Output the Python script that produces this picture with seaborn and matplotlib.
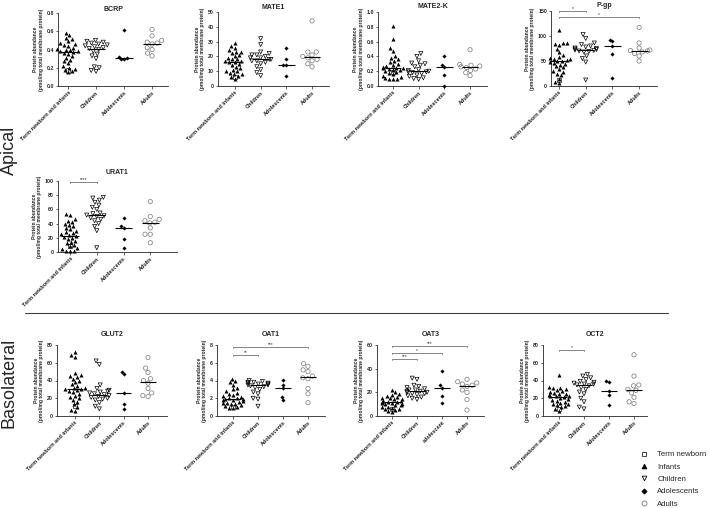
import numpy as np
import pandas as pd
import seaborn as sns
import matplotlib
matplotlib.use("Agg")
import matplotlib.pyplot as plt
from matplotlib.lines import Line2D

# ---- categories ----
GROUPS = ["Term newborn and infants", "Children", "Adolescents", "Adults"]
GROUPS_OAT3 = ["Term newborn and infants", "Children", "adolescent", "Adults"]
SUBGROUPS = ["Term newborn", "Infants", "Children", "Adolescents", "Adults"]
SUB_TO_GROUP = [0, 0, 1, 2, 3]
YLABEL = "Protein abundance\n(pmol/mg total membrane protein)"

# ---- BCRP ----
bcrp_newborn = [0.17]
bcrp_infants = [0.58, 0.56, 0.53, 0.51, 0.49, 0.47, 0.46, 0.45, 0.44, 0.42, 0.41, 0.40, 0.39, 0.38, 0.38,
                0.37, 0.36, 0.35, 0.33, 0.31, 0.29, 0.27, 0.25, 0.22, 0.20, 0.19, 0.18, 0.16, 0.15]
bcrp_children = [0.50, 0.49, 0.48, 0.47, 0.46, 0.45, 0.44, 0.43, 0.42, 0.41, 0.40, 0.38, 0.35, 0.33, 0.30,
                 0.21, 0.20, 0.17, 0.16]
bcrp_adolescents = [0.61, 0.32, 0.31, 0.30, 0.30]
bcrp_adults = [0.62, 0.55, 0.50, 0.48, 0.47, 0.46, 0.42, 0.40, 0.36, 0.33]

# ---- MATE1 ----
mate1_newborn = [6]
mate1_infants = [29, 27, 26, 24, 23, 23, 22, 21, 20, 19, 18, 18, 17, 17, 16, 16, 15, 14, 13, 12, 11, 10,
                 10, 9, 8, 8, 7, 6, 5]
mate1_children = [32, 28, 23, 22, 21, 21, 20, 19, 19, 18, 18, 17, 17, 16, 15, 13, 11, 9, 7]
mate1_adolescents = [26, 18, 14, 14, 6.5]
mate1_adults = [44, 23, 23, 21, 20, 19, 18, 17, 15, 13]

# ---- MATE2-K ----
mate2k_newborn = [0.19]
mate2k_infants = [0.81, 0.63, 0.51, 0.47, 0.40, 0.38, 0.36, 0.34, 0.32, 0.30, 0.28, 0.27, 0.26, 0.25, 0.24,
                  0.24, 0.23, 0.22, 0.21, 0.20, 0.19, 0.17, 0.16, 0.14, 0.12, 0.11, 0.10, 0.10, 0.09]
mate2k_children = [0.44, 0.40, 0.34, 0.31, 0.30, 0.28, 0.26, 0.22, 0.21, 0.20, 0.19, 0.19, 0.18, 0.17, 0.15,
                   0.13, 0.11, 0.10, 0.09]
mate2k_adolescents = [0.41, 0.28, 0.26, 0.15, 0.0]
mate2k_adults = [0.49, 0.29, 0.28, 0.27, 0.26, 0.25, 0.23, 0.21, 0.18, 0.14]

# ---- P-gp ----
pgp_newborn = [12]
pgp_infants = [112, 87, 86, 84, 82, 75, 68, 62, 58, 57, 55, 54, 52, 51, 50, 49, 47, 45, 43, 40, 38, 35,
               30, 28, 25, 22, 15, 8, 7]
pgp_children = [103, 95, 86, 83, 80, 78, 76, 75, 74, 73, 72, 71, 70, 69, 68, 60, 55, 48, 12]
pgp_adolescents = [92, 90, 80, 64, 17]
pgp_adults = [117, 86, 76, 72, 71, 70, 68, 65, 60, 50]

# ---- URAT1 ----
urat1_newborn = [8]
urat1_infants = [53, 52, 46, 44, 42, 40, 38, 36, 34, 32, 30, 28, 27, 25, 24, 22, 21, 20, 18, 16, 14, 12,
                 10, 8, 6, 4, 2, 1.5, 1]
urat1_children = [77, 76, 73, 70, 66, 63, 60, 55, 54, 52, 51, 50, 48, 46, 44, 40, 36, 30, 6]
urat1_adolescents = [48, 37, 34, 18, 5]
urat1_adults = [71, 50, 46, 44, 42, 41, 34, 25, 25, 13]

# ---- GLUT2 ----
glut2_newborn = [11]
glut2_infants = [72, 69, 67, 48, 46, 45, 44, 42, 40, 38, 36, 34, 32, 31, 30, 30, 29, 28, 27, 25, 23, 21,
                 20, 18, 16, 13, 10, 7, 6]
glut2_children = [62, 58, 35, 31, 29, 28, 27, 26, 25, 24, 23, 22, 21, 20, 19, 18, 15, 11, 8]
glut2_adolescents = [50, 47, 26, 14, 8]
glut2_adults = [66, 54, 49, 42, 40, 37, 31, 26, 23, 22]

# ---- OAT1 ----
oat1_newborn = [1.0]
oat1_infants = [4.2, 3.9, 3.8, 3.5, 3.2, 3.0, 2.8, 2.6, 2.5, 2.4, 2.2, 2.1, 2.0, 2.0, 1.9, 1.9, 1.8, 1.8,
                1.7, 1.6, 1.5, 1.5, 1.4, 1.3, 1.2, 1.1, 1.0, 0.9, 0.9]
oat1_children = [4.0, 3.9, 3.8, 3.8, 3.7, 3.7, 3.6, 3.6, 3.5, 3.5, 3.4, 3.3, 3.2, 3.0, 2.7, 2.5, 2.0, 1.9, 1.1]
oat1_adolescents = [4.1, 3.5, 3.1, 2.1, 1.8]
oat1_adults = [5.9, 5.6, 5.2, 5.0, 4.5, 4.3, 4.2, 3.1, 2.5, 1.5]

# ---- OAT3 ----
oat3_newborn = [6]
oat3_infants = [22, 20, 19, 18, 17, 16, 15, 15, 14, 14, 13, 13, 12, 12, 12, 11, 11, 10, 10, 9, 9, 8, 8, 7,
                6, 6, 5, 4, 3]
oat3_children = [32, 31, 26, 25, 24, 23, 22, 22, 21, 21, 20, 20, 19, 19, 18, 17, 16, 15, 14]
oat3_adolescents = [38, 26, 24, 17, 11]
oat3_adults = [31, 29, 28, 27, 26, 25, 22, 20, 14, 5]

# ---- OCT2 ----
oct2_newborn = [8]
oct2_infants = [46, 33, 32, 31, 30, 29, 28, 27, 26, 25, 25, 24, 23, 22, 22, 21, 20, 19, 18, 17, 16, 15,
                14, 13, 12, 11, 10, 8, 6]
oct2_children = [47, 45, 43, 41, 39, 38, 37, 36, 36, 35, 34, 32, 30, 27, 25, 20, 16, 10, 8]
oct2_adolescents = [39, 38, 28, 24, 12]
oct2_adults = [69, 45, 35, 34, 30, 29, 26, 21, 16, 14]

# significance brackets: (group a, group b, height, label)
pgp_sig = [(0, 1, 150, "*"), (0, 3, 138, "*")]
urat1_sig = [(0, 1, 99, "****")]
oat1_sig = [(0, 3, 7.8, "***"), (0, 1, 6.9, "**")]
oat3_sig = [(0, 3, 59, "***"), (0, 2, 53, "*"), (0, 1, 48, "***")]
oct2_sig = [(0, 1, 74, "*")]

# ---- styles ----
MARKERS = {"Term newborn": "s", "Infants": "^", "Children": "v", "Adolescents": "D", "Adults": "o"}
SIZES = {"Term newborn": 3.0, "Infants": 2.9, "Children": 2.9, "Adolescents": 2.1, "Adults": 3.1}
COLORS = {"Term newborn": "#222222", "Infants": "black", "Children": "black",
          "Adolescents": "black", "Adults": "#777777"}
OPEN = {"Term newborn", "Children", "Adults"}

W, H = 709, 508


def rect(left, top, right, bottom):
    return [left / W, 1 - bottom / H, (right - left) / W, (bottom - top) / H]


def draw_panel(fig, box, xlim, title, pad, sets, ymax, ystep, fmt, xlabels, sig):
    ax = fig.add_axes(rect(*box))

    rows = []
    for sub, gi, vals in zip(SUBGROUPS, SUB_TO_GROUP, sets):
        for v in vals:
            rows.append({"group": xlabels[gi], "sub": sub, "value": v})
    df = pd.DataFrame(rows)

    for sub in SUBGROUPS:
        part = df[df["sub"] == sub]
        n_before = len(ax.collections)
        sns.swarmplot(data=part, x="group", y="value", order=xlabels, ax=ax,
                      marker=MARKERS[sub], color=COLORS[sub], size=SIZES[sub],
                      linewidth=0, clip_on=False, warn_thresh=1)
        # drop empty point collections (categories without this subgroup)
        for coll in list(ax.collections[n_before:]):
            if len(coll.get_offsets()) == 0:
                coll.remove()
            elif sub in OPEN:
                coll.set_facecolor("none")
                coll.set_edgecolor(COLORS[sub])
                coll.set_linewidth(0.5)

    # median lines
    med = df.groupby("group")["value"].median()
    for i, g in enumerate(xlabels):
        ax.hlines(med[g], i - 0.32, i + 0.32, color="black", lw=0.8, zorder=5)

    # significance brackets
    d = ymax * 0.015
    for a, b, y, lab in sig:
        ax.plot([a, a, b, b], [y - d, y, y, y - d], color="#555555", lw=0.5, clip_on=False)
        ax.text((a + b) / 2, y, lab, ha="center", va="bottom", fontsize=3.5, color="#333333")

    ax.set_xlim(*xlim)
    ax.set_ylim(0, ymax)
    ticks = np.arange(0, ymax + ystep / 2, ystep)
    ax.set_yticks(ticks)
    ax.set_yticklabels([fmt.format(t) for t in ticks], fontsize=3.8, fontweight="bold")
    ax.set_xticks(range(4))
    ax.set_xticklabels(xlabels, rotation=45, ha="right", rotation_mode="anchor",
                       fontsize=4.0, fontweight="bold")
    ax.set_xlabel("")
    ax.set_ylabel(YLABEL, fontsize=3.6, fontweight="bold", labelpad=2)
    ax.set_title(title, fontsize=5, fontweight="bold", pad=pad)
    ax.tick_params(length=1.8, width=0.5, pad=1)
    sns.despine(ax=ax)
    for s in ["left", "bottom"]:
        ax.spines[s].set_linewidth(0.6)
    return ax


sns.set_style("ticks")
plt.rcParams["font.family"] = ["Liberation Sans", "DejaVu Sans"]

fig = plt.figure(figsize=(7.09, 5.08), dpi=100)

draw_panel(fig, (58, 13, 168, 86), (-0.36, 3.57), "BCRP", 0.8,
           [bcrp_newborn, bcrp_infants, bcrp_children, bcrp_adolescents, bcrp_adults],
           0.8, 0.2, "{:.1f}", GROUPS, [])
draw_panel(fig, (218, 12, 329, 86), (-0.66, 3.66), "MATE1", 2,
           [mate1_newborn, mate1_infants, mate1_children, mate1_adolescents, mate1_adults],
           50, 10, "{:.0f}", GROUPS, [])
draw_panel(fig, (378, 12, 487, 86), (-0.58, 3.66), "MATE2-K", 3,
           [mate2k_newborn, mate2k_infants, mate2k_children, mate2k_adolescents, mate2k_adults],
           1.0, 0.2, "{:.1f}", GROUPS, [])
draw_panel(fig, (551, 11, 657, 86), (-0.3, 3.67), "P-gp", 3,
           [pgp_newborn, pgp_infants, pgp_children, pgp_adolescents, pgp_adults],
           150, 50, "{:.0f}", GROUPS, pgp_sig)
draw_panel(fig, (58, 181, 177, 252), (-0.45, 4.0), "URAT1", 5,
           [urat1_newborn, urat1_infants, urat1_children, urat1_adolescents, urat1_adults],
           100, 20, "{:.0f}", GROUPS, urat1_sig)
draw_panel(fig, (57, 345, 167, 416), (-0.74, 3.78), "GLUT2", 6.5,
           [glut2_newborn, glut2_infants, glut2_children, glut2_adolescents, glut2_adults],
           80, 20, "{:.0f}", GROUPS, [])
draw_panel(fig, (217, 345, 325, 416), (-0.64, 3.68), "OAT1", 6.5,
           [oat1_newborn, oat1_infants, oat1_children, oat1_adolescents, oat1_adults],
           8, 2, "{:.0f}", GROUPS, oat1_sig)
draw_panel(fig, (377, 345, 484, 416), (-0.6, 3.68), "OAT3", 6.5,
           [oat3_newborn, oat3_infants, oat3_children, oat3_adolescents, oat3_adults],
           60, 20, "{:.0f}", GROUPS_OAT3, oat3_sig)
draw_panel(fig, (543, 345, 647, 416), (-0.64, 3.52), "OCT2", 6.5,
           [oct2_newborn, oct2_infants, oct2_children, oct2_adolescents, oct2_adults],
           80, 20, "{:.0f}", GROUPS, oct2_sig)

# section labels and separator
fig.text(9 / W, 1 - 150 / H, "Apical", rotation=90, fontsize=13, ha="center", va="center")
fig.text(9 / W, 1 - 383 / H, "Basolateral", rotation=90, fontsize=13, ha="center", va="center")
fig.add_artist(Line2D([25 / W, 668 / W], [1 - 313 / H, 1 - 313 / H], color="#444444", lw=0.8))

# legend
handles = []
for sub in SUBGROUPS:
    handles.append(Line2D([], [], ls="none", marker=MARKERS[sub], color=COLORS[sub],
                          markersize=SIZES[sub] + 0.5,
                          markerfacecolor="none" if sub in OPEN else COLORS[sub],
                          markeredgewidth=0.6))
fig.legend(handles, SUBGROUPS, loc="upper left", bbox_to_anchor=(641 / W, 1 - 451 / H),
           frameon=False, fontsize=5.6, handlelength=0.8, handletextpad=1.3,
           labelspacing=0.62, borderpad=0, borderaxespad=0)

fig.savefig("out.png", dpi=100)
